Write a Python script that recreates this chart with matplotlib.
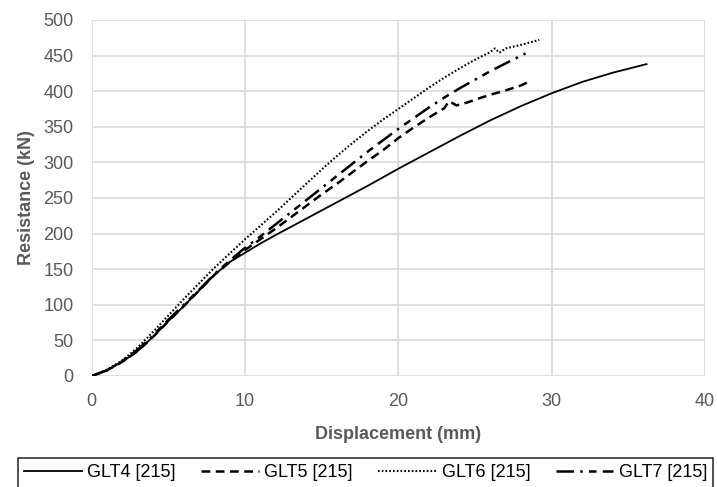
import matplotlib
matplotlib.use("Agg")
import matplotlib.pyplot as plt

glt4_x = [0, 1, 2, 3, 4, 5, 6, 7, 8, 9, 10, 11, 12, 14, 16, 18, 20, 22, 24, 26, 28, 30, 32, 34, 36.2]
glt4_y = [0, 8, 20, 35, 55, 77, 98, 120, 142, 160, 173, 186, 198, 221, 244, 267, 291, 314, 337, 359, 379, 397, 413, 426, 438]

glt5_x = [0, 1, 2, 3, 4, 5, 6, 7, 8, 9, 10, 11, 12, 13, 14, 15, 16, 17, 18, 19, 20, 21, 22, 23, 23.3, 23.8, 24.5, 25, 26, 27, 28, 28.4]
glt5_y = [0, 8, 20, 35, 55, 77, 98, 120, 142, 160, 177, 192, 207, 223, 239, 255, 270, 286, 302, 317, 334, 349, 363, 376, 386, 380, 384, 388, 395, 401, 408, 412]

glt6_x = [0, 1, 2, 3, 4, 5, 6, 7, 8, 9, 10, 11, 12, 13, 14, 15, 16, 17, 18, 19, 20, 21, 22, 23, 24, 25, 26, 26.3, 26.6, 27, 28, 29.2]
glt6_y = [0, 9, 22, 40, 62, 85, 108, 130, 152, 172, 192, 211, 230, 250, 270, 290, 309, 327, 344, 360, 375, 390, 405, 419, 432, 444, 455, 460, 454, 460, 465, 472]

glt7_x = [0, 1, 2, 3, 4, 5, 6, 7, 8, 9, 10, 11, 12, 13, 14, 15, 16, 17, 18, 19, 20, 21, 22, 23, 24, 25, 26, 27, 28.3]
glt7_y = [0, 8, 21, 37, 57, 79, 100, 121, 143, 162, 180, 196, 213, 230, 247, 264, 281, 298, 315, 331, 347, 362, 377, 391, 404, 416, 428, 439, 453]

labels = ["GLT4 [215]", "GLT5 [215]", "GLT6 [215]", "GLT7 [215]"]
x_ticks = [0, 10, 20, 30, 40]
y_ticks = list(range(0, 501, 50))

plt.rcParams['font.family'] = ['Liberation Sans', 'DejaVu Sans']

fig = plt.figure(figsize=(7.17, 4.87), dpi=100)
ax = fig.add_axes([0.128, 0.228, 0.855, 0.731])

ax.plot(glt4_x, glt4_y, color='black', lw=1.3, linestyle='-', label=labels[0])
ax.plot(glt5_x, glt5_y, color='black', lw=1.8, linestyle=(0, (3.5, 2.2)), label=labels[1])
ax.plot(glt6_x, glt6_y, color='black', lw=1.5, linestyle=(0, (0.8, 1.0)), label=labels[2])
ax.plot(glt7_x, glt7_y, color='black', lw=1.8, linestyle=(0, (7, 2.5, 1, 2.5, 3, 2.5)), label=labels[3])

ax.set_xlim(0, 40)
ax.set_ylim(0, 500)
ax.set_xticks(x_ticks)
ax.set_yticks(y_ticks)
ax.grid(True, color='#d9d9d9', lw=1.2)
ax.set_axisbelow(True)
for s in ax.spines.values():
    s.set_visible(False)
ax.tick_params(axis='x', length=0, labelsize=13, colors='#595959', pad=12)
ax.tick_params(axis='y', length=0, labelsize=13, colors='#595959', pad=13)
ax.set_xlabel("Displacement (mm)", fontsize=13, fontweight='bold', color='#595959', labelpad=12)
ax.set_ylabel("Resistance (kN)", fontsize=13, fontweight='bold', color='#595959', labelpad=6)

leg = fig.legend(loc='upper left', bbox_to_anchor=(0.025, 0.0595, 0.97, 0.0), mode='expand',
                 ncol=4, frameon=True, fancybox=False, fontsize=13, handlelength=3.2,
                 handletextpad=0.3, borderaxespad=0, borderpad=0.35)
leg.get_frame().set_edgecolor('black')
leg.get_frame().set_linewidth(1.2)

fig.savefig("out.png", dpi=100)
